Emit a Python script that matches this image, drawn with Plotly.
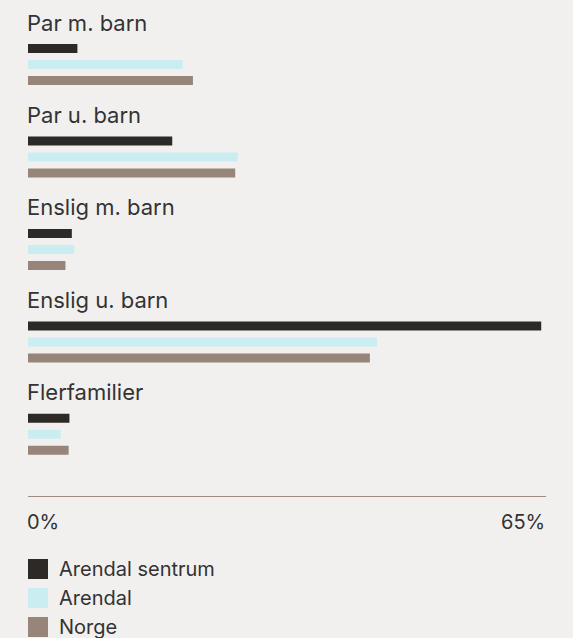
import plotly.graph_objects as go

categories = ["Par m. barn", "Par u. barn", "Enslig m. barn", "Enslig u. barn", "Flerfamilier"]
series_names = ["Arendal sentrum", "Arendal", "Norge"]
arendal_sentrum = [6.2, 18.1, 5.5, 64.4, 5.2]
arendal = [19.4, 26.3, 5.8, 43.8, 4.1]
norge = [20.7, 26.0, 4.7, 42.9, 5.1]
series_values = [arendal_sentrum, arendal, norge]
colors = ["#2d2926", "#c9edf0", "#978579"]
x_max = 65
tick_labels = ["0%", "65%"]

BG = "#f2f0ee"
TXT = "#333333"
FONT = "Inter"

fig = go.Figure()
for name, vals, col in zip(series_names, series_values, colors):
    fig.add_trace(go.Bar(
        y=categories, x=vals, name=name, orientation="h",
        marker=dict(color=col, line=dict(width=0)),
        showlegend=False, hoverinfo="x+name",
    ))

annotations = []
for cat in categories:
    annotations.append(dict(
        x=0, xref="paper", xanchor="left", xshift=-3, y=cat, yref="y", yanchor="middle",
        yshift=42, text=cat, showarrow=False,
        font=dict(family=FONT, size=22, color=TXT),
    ))

# axis end labels
annotations.append(dict(x=0, xref="x", xanchor="left", xshift=-3, y=0, yref="paper", yanchor="top",
                        yshift=-12, text=tick_labels[0], showarrow=False,
                        font=dict(family=FONT, size=20, color=TXT)))
annotations.append(dict(x=x_max, xref="x", xanchor="right", xshift=1, y=0, yref="paper", yanchor="top",
                        yshift=-12, text=tick_labels[1], showarrow=False,
                        font=dict(family=FONT, size=20, color=TXT)))

shapes = []
for i, (name, col) in enumerate(zip(series_names, colors)):
    top = -63 - 29 * i
    shapes.append(dict(type="rect", xref="paper", yref="paper",
                       xsizemode="pixel", ysizemode="pixel", xanchor=0, yanchor=0,
                       x0=0, x1=20, y0=top, y1=top - 20,
                       fillcolor=col, line=dict(width=0)))
    annotations.append(dict(x=0, xref="paper", xanchor="left", xshift=29,
                            y=0, yref="paper", yanchor="middle", yshift=top - 10,
                            text=name, showarrow=False,
                            font=dict(family=FONT, size=20, color=TXT)))

fig.update_layout(
    width=573, height=638,
    margin=dict(l=28, r=27, t=0, b=142),
    paper_bgcolor=BG, plot_bgcolor=BG,
    barmode="group", bargap=0.481, bargroupgap=0.4375,
    xaxis=dict(range=[0, x_max], showgrid=False, zeroline=False, showticklabels=False,
               showline=True, linecolor="#a08c80", linewidth=1, ticks="", fixedrange=True),
    yaxis=dict(range=[4.667, -0.698], showgrid=False, zeroline=False, showticklabels=False,
               showline=False, ticks="", fixedrange=True),
    annotations=annotations, shapes=shapes,
    showlegend=False,
)

fig.write_html("out.html")
